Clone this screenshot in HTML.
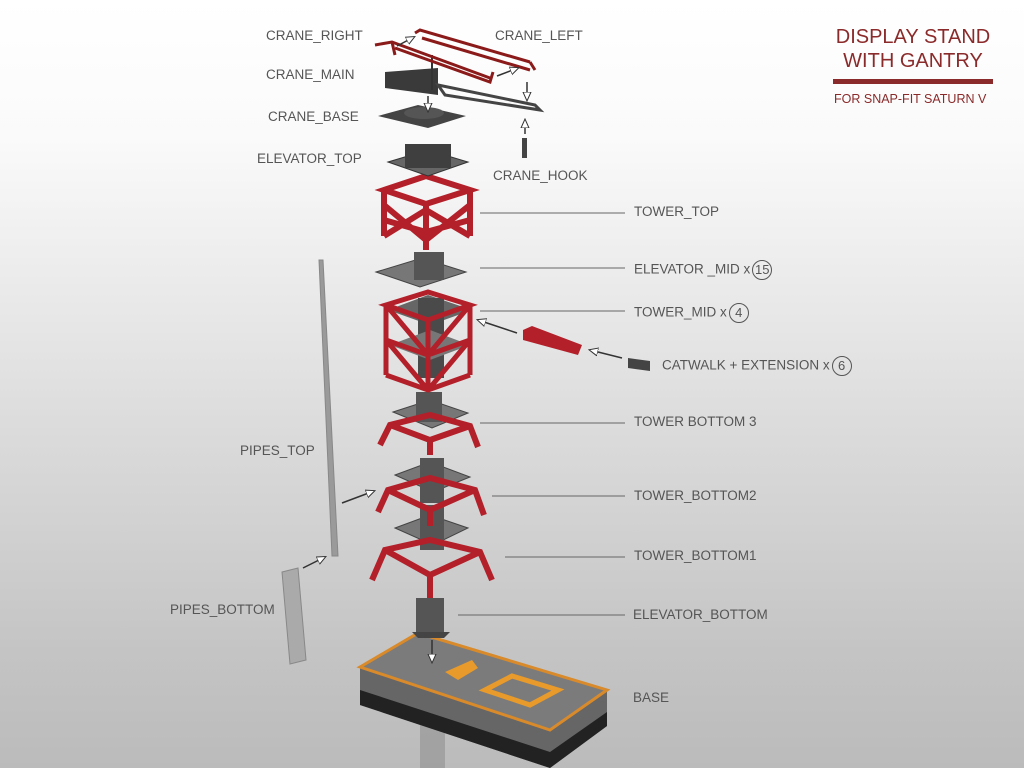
<!DOCTYPE html>
<html><head><meta charset="utf-8"><style>
html,body{margin:0;padding:0;}
body{width:1024px;height:768px;overflow:hidden;background:linear-gradient(#fff 0%,#fafafa 18%,#dcdcdc 55%,#c4c4c4 85%,#bbb 100%);font-family:"Liberation Sans",sans-serif;position:relative;}
.l{position:absolute;font-size:13.5px;color:#555;white-space:nowrap;line-height:16px;}
.c{display:inline-block;width:18px;height:18px;border:1px solid #555;border-radius:50%;text-align:center;line-height:18px;font-size:13px;vertical-align:middle;margin-left:2px;}
</style></head><body>
<svg width="1024" height="768" style="position:absolute;left:0;top:0">
<defs>
<marker id="a" markerUnits="userSpaceOnUse" markerWidth="10" markerHeight="10" refX="8" refY="5" orient="auto"><path d="M0,1 L9,5 L0,9 z" fill="#fff" stroke="#333" stroke-width="1"/></marker>
</defs>
<g stroke="#666" stroke-width="1">
<line x1="480" y1="213" x2="625" y2="213"/><line x1="480" y1="268" x2="625" y2="268"/>
<line x1="480" y1="311" x2="625" y2="311"/><line x1="480" y1="423" x2="625" y2="423"/>
<line x1="492" y1="496" x2="625" y2="496"/><line x1="505" y1="557" x2="625" y2="557"/>
<line x1="458" y1="615" x2="625" y2="615"/>
</g>
<!-- base -->
<rect x="420" y="705" width="25" height="63" fill="#888" opacity="0.5"/>
<polygon points="360,667 360,705 550,768 607,726 607,690 550,730" fill="#666"/>
<polygon points="360,690 360,705 550,768 607,726 607,712 550,752" fill="#222"/>
<polygon points="360,667 418,633 607,690 550,730" fill="#7b7b7b" stroke="#d98a2a" stroke-width="3"/>
<polygon points="485,690 512,676 558,690 530,705" fill="none" stroke="#e89a2a" stroke-width="5"/>
<polygon points="445,672 472,660 478,668 458,680" fill="#e89a2a"/>
<!-- elevator bottom -->
<rect x="416" y="598" width="28" height="36" fill="#555"/>
<polygon points="412,632 450,632 444,638 418,638" fill="#444"/>
<line x1="432" y1="640" x2="432" y2="662" stroke="#333" marker-end="url(#a)" stroke-width="1.5"/>
<!-- tower bottom1 -->
<polygon points="395,528 430,515 468,528 433,545" fill="#777" stroke="#444"/>
<rect x="420" y="505" width="24" height="45" fill="#555"/>
<path d="M372,580 L385,550 L430,540 L480,552 L492,580 M385,550 L430,575 L480,552 M430,575 L430,598" stroke="#b3202a" stroke-width="6" fill="none"/>
<!-- tower bottom2 -->
<polygon points="395,475 430,462 470,477 433,492" fill="#777" stroke="#444"/>
<rect x="420" y="458" width="24" height="45" fill="#555"/>
<path d="M378,512 L388,490 L430,478 L475,490 L484,515 M388,490 L430,510 L475,490 M430,510 L430,526" stroke="#b3202a" stroke-width="6" fill="none"/>
<!-- tower bottom3 -->
<polygon points="393,412 430,400 468,413 432,428" fill="#777" stroke="#444"/>
<rect x="416" y="392" width="26" height="30" fill="#555"/>
<path d="M380,445 L390,425 L430,415 L470,426 L478,447 M390,425 L430,440 L470,426 M430,440 L430,455" stroke="#b3202a" stroke-width="6" fill="none"/>
<!-- tower mid -->
<polygon points="388,310 428,295 472,310 430,325" fill="#666"/>
<rect x="418" y="298" width="26" height="80" fill="#4a4a4a"/>
<polygon points="390,345 430,330 470,345 430,360" fill="#777"/>
<path d="M386,305 L386,375 M428,320 L428,390 M470,305 L470,375 M386,305 L428,292 L470,305 L428,320 Z M386,340 L428,355 L470,340 M386,375 L428,390 L470,375 M386,305 L428,355 M470,305 L428,355 M386,340 L428,390 M470,340 L428,390" stroke="#b3202a" stroke-width="5" fill="none"/>
<!-- elevator mid -->
<polygon points="376,272 422,258 466,272 420,287" fill="#777" stroke="#444"/>
<rect x="414" y="252" width="30" height="28" fill="#555"/>
<!-- tower top -->
<path d="M384,190 L384,236 M426,204 L426,250 M470,190 L470,236 M384,190 L426,176 L470,190 L426,204 Z M384,236 L426,210 L470,236 M384,205 L426,240 L470,205 M384,220 L426,232 L470,220" stroke="#b3202a" stroke-width="6" fill="none"/>
<!-- elevator top -->
<polygon points="388,162 428,150 468,162 428,176" fill="#666" stroke="#333"/>
<rect x="405" y="144" width="46" height="24" fill="#3f3f3f"/>
<!-- crane base -->
<polygon points="378,116 418,105 466,116 428,128" fill="#444"/>
<ellipse cx="424" cy="113" rx="20" ry="6" fill="#555"/>
<line x1="428" y1="96" x2="428" y2="111" stroke="#333" marker-end="url(#a)" stroke-width="1.5"/>
<!-- crane main -->
<path d="M385,72 L438,68 L438,95 L385,88 Z" fill="#3a3a3a"/>
<polygon points="438,85 535,105 540,110 445,95" fill="none" stroke="#444" stroke-width="3"/>
<line x1="432" y1="55" x2="432" y2="90" stroke="#333" stroke-width="2"/>
<!-- crane booms -->
<path d="M375,45 L392,42 L490,78 M395,48 L490,82 L493,72 M392,42 L395,55" stroke="#8b1a1a" stroke-width="3" fill="none"/>
<path d="M415,33 L420,30 L530,62 M422,38 L530,70 M530,62 L535,70" stroke="#8b1a1a" stroke-width="3" fill="none"/>
<line x1="397" y1="46" x2="414" y2="37" stroke="#333" marker-end="url(#a)" stroke-width="1.5"/>
<line x1="497" y1="76" x2="518" y2="68" stroke="#333" marker-end="url(#a)" stroke-width="1.5"/>
<line x1="527" y1="82" x2="527" y2="100" stroke="#333" marker-end="url(#a)" stroke-width="1.5"/>
<line x1="525" y1="134" x2="525" y2="120" stroke="#333" marker-end="url(#a)" stroke-width="1.5"/>
<rect x="522" y="138" width="5" height="20" fill="#444"/>
<!-- catwalk -->
<polygon points="523,330 532,326 582,345 578,355 523,340" fill="#b3202a"/>
<polygon points="628,358 650,361 650,371 628,368" fill="#444"/>
<line x1="517" y1="333" x2="478" y2="320" stroke="#333" marker-end="url(#a)" stroke-width="1.5"/>
<line x1="622" y1="358" x2="590" y2="350" stroke="#333" marker-end="url(#a)" stroke-width="1.5"/>
<!-- pipes -->
<polygon points="319,260 323,260 338,556 332,556" fill="#9a9a9a" stroke="#888"/>
<polygon points="282,572 298,568 306,660 290,664" fill="#aaa" stroke="#888"/>
<line x1="342" y1="503" x2="374" y2="491" stroke="#333" marker-end="url(#a)" stroke-width="1.5"/>
<line x1="303" y1="568" x2="325" y2="557" stroke="#333" marker-end="url(#a)" stroke-width="1.5"/>
<rect x="833" y="79" width="160" height="5" fill="#8b2a2a"/>
</svg>
<div class="l" style="left:266px;top:28px">CRANE_RIGHT</div>
<div class="l" style="left:495px;top:28px">CRANE_LEFT</div>
<div class="l" style="left:266px;top:67px">CRANE_MAIN</div>
<div class="l" style="left:268px;top:109px">CRANE_BASE</div>
<div class="l" style="left:257px;top:151px">ELEVATOR_TOP</div>
<div class="l" style="left:493px;top:168px">CRANE_HOOK</div>
<div class="l" style="left:634px;top:204px">TOWER_TOP</div>
<div class="l" style="left:634px;top:260px">ELEVATOR _MID x<span class="c">15</span></div>
<div class="l" style="left:634px;top:303px">TOWER_MID x<span class="c">4</span></div>
<div class="l" style="left:662px;top:356px">CATWALK + EXTENSION x<span class="c">6</span></div>
<div class="l" style="left:634px;top:414px">TOWER BOTTOM 3</div>
<div class="l" style="left:634px;top:488px">TOWER_BOTTOM2</div>
<div class="l" style="left:634px;top:548px">TOWER_BOTTOM1</div>
<div class="l" style="left:633px;top:607px">ELEVATOR_BOTTOM</div>
<div class="l" style="left:633px;top:690px">BASE</div>
<div class="l" style="left:240px;top:443px">PIPES_TOP</div>
<div class="l" style="left:170px;top:602px">PIPES_BOTTOM</div>
<div style="position:absolute;left:813px;top:25px;width:200px;font-size:20px;line-height:24px;color:#8b2a2a;text-align:center;white-space:nowrap">DISPLAY STAND<br>WITH GANTRY</div>
<div style="position:absolute;left:834px;top:92px;font-size:12.5px;color:#8b2a2a;white-space:nowrap">FOR SNAP-FIT SATURN V</div>
</body></html>
